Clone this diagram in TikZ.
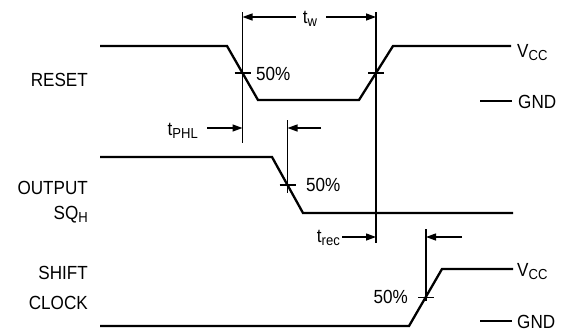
\documentclass[tikz,border=0pt]{standalone}
\usepackage{fontspec}
\setmainfont{Liberation Sans}[FakeStretch=0.9]
\usetikzlibrary{arrows.meta}
\newcommand\dn[1]{\raisebox{-3.5pt}{\fontsize{14.5}{17}\selectfont #1}}

\begin{document}
\begin{tikzpicture}[x=1pt,y=-1pt,
	sig/.style={line width=2.3pt},
	dim/.style={line width=1.3pt},
	dimarrow/.style={dim,-{Triangle[length=10pt,width=7pt]}},
	lbl/.style={font=\fontsize{19}{22}\selectfont,inner sep=0pt}]
	\useasboundingbox (0,0) rectangle (568,335);
	% 50% points
	\coordinate (rfall) at (242.5,73);
	\coordinate (rrise) at (376,73);
	\coordinate (ofall) at (287.5,185);
	\coordinate (crise) at (426,297.5);
	% waveforms
	\draw[sig] (100,46) -- (227,46) -- (258,100) -- (359,100) -- (393,46) -- (511,46);
	\draw[sig] (100,157) -- (272,157) -- (303,213) -- (513,213);
	\draw[sig] (100,326) -- (409,326) -- (442,269) -- (513,269);
	\draw[sig] (480,101) -- (512,101);
	\draw[sig] (480,321) -- (512,321);
	% reference lines and marks
	\draw[dim] (rfall |- 0,12) -- (rfall |- 0,143);
	\draw[dim] (rrise |- 0,12) -- (rrise |- 0,243);
	\draw[dim] (ofall |- 0,120) -- (ofall |- 0,193);
	\draw[dim] (crise |- 0,229) -- (crise |- 0,301);
	\foreach \p in {rfall,rrise,ofall,crise}
		\draw[dim] ([xshift=-8pt]\p) -- ([xshift=8pt]\p);
	% timing arrows
	\draw[dimarrow] (296,17) -- (rfall |- 0,17);
	\draw[dimarrow] (326,17) -- (rrise |- 0,17);
	\draw[dimarrow] (207,128) -- (rfall |- 0,128);
	\draw[dimarrow] (321,128) -- (ofall |- 0,128);
	\draw[dimarrow] (342,237) -- (rrise |- 0,237);
	\draw[dimarrow] (462,237) -- (crise |- 0,237);
	% labels
	\node[lbl,anchor=base] (tw) at (310,23) {t\dn{w}};
	\node[lbl,anchor=base east] (tphl) at (198,135) {t\dn{PHL}};
	\node[lbl,anchor=base east] (trec) at (340,242) {t\dn{rec}};
	\node[lbl,anchor=base west] (pcta) at (256,80) {50\%};
	\node[lbl,anchor=base west] (pctb) at (306,191) {50\%};
	\node[lbl,anchor=base east] (pctc) at (408,303) {50\%};
	\node[lbl,anchor=base west] (vcca) at (517,57) {V\dn{CC}};
	\node[lbl,anchor=base west] (gnda) at (518,108) {GND};
	\node[lbl,anchor=base west] (vccb) at (517,276) {V\dn{CC}};
	\node[lbl,anchor=base west] (gndb) at (517,328) {GND};
	\node[lbl,anchor=base east] (reset) at (88,86) {RESET};
	\node[lbl,anchor=base east] (output) at (88,194) {OUTPUT};
	\node[lbl,anchor=base east] (sqh) at (88,219) {SQ\dn{H}};
	\node[lbl,anchor=base east] (shift) at (88,279) {SHIFT};
	\node[lbl,anchor=base east] (clock) at (88,309) {CLOCK};
\end{tikzpicture}
\end{document}
